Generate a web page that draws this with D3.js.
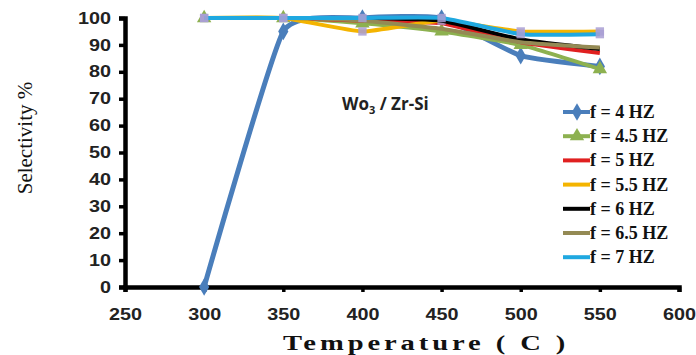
<!DOCTYPE html>
<html lang="en">
<head>
    <meta charset="UTF-8">
    <script src="https://cdn.jsdelivr.net/npm/d3@7"></script>
    <title>Selectivity vs Temperature</title>
    <style>
        body { margin: 0; background: white; }
        .tick text { font-family: "Liberation Sans", Arial, sans-serif; font-weight: bold; font-size: 16px; fill: #222; }
    </style>
</head>
<body>
    <div id="chart"></div>
    <script>
        const temps = [300, 350, 400, 450, 500, 550];
        const seriesNames = ["f = 4 HZ", "f = 4.5 HZ", "f = 5 HZ", "f = 5.5 HZ", "f = 6  HZ", "f = 6.5 HZ", "f = 7  HZ"];
        const sel4 = [0, 95, 100, 100, 86, 82];
        const sel45 = [100, 100, 98, 95, 90, 81];
        const sel5 = [100, 100, 99, 98, 91, 87];
        const sel55 = [100, 100, 95, 99, 95, 95];
        const sel6 = [100, 100, 100, 99, 92, 88.5];
        const sel65 = [100, 100, 99, 96, 91, 89];
        const sel7 = [100, 100, 100, 100, 94, 94];
        const xTicks = [250, 300, 350, 400, 450, 500, 550, 600];
        const yTicks = [0, 10, 20, 30, 40, 50, 60, 70, 80, 90, 100];

        const colors = ["#4a7ebb", "#8db150", "#e02020", "#f4b400", "#000000", "#948a54", "#1fa8e0"];
        const markers = ["diamond", "triangle", null, "square", null, null, "square"];
        const allValues = [sel4, sel45, sel5, sel55, sel6, sel65, sel7];

        const width = 696, height = 355;
        const svg = d3.select("#chart").append("svg")
            .attr("width", width)
            .attr("height", height);

        const x = d3.scaleLinear().domain([250, 600]).range([125, 679]);
        const y = d3.scaleLinear().domain([0, 100]).range([287, 18]);

        // axes
        const yAxis = svg.append("g")
            .attr("transform", "translate(125,0)")
            .call(d3.axisLeft(y).tickValues(yTicks).tickSize(6).tickPadding(8));
        const xAxis = svg.append("g")
            .attr("transform", "translate(0,287)")
            .call(d3.axisBottom(x).tickValues(xTicks).tickSize(5).tickPadding(14));
        [xAxis, yAxis].forEach(g => {
            g.select(".domain").attr("stroke", "#000").attr("stroke-width", 4.5);
            g.selectAll(".tick line").attr("stroke", "#000").attr("stroke-width", 3.5);
            g.selectAll(".tick text").attr("textLength", 33).attr("lengthAdjust", "spacingAndGlyphs");
        });
        yAxis.selectAll(".tick text").attr("textLength", d => d === 100 ? 33 : d === 0 ? 11 : 22);
        xAxis.selectAll(".tick text").attr("dy", "0.9em");

        const line = d3.line()
            .x((d, i) => x(temps[i]))
            .y(d => y(d))
            .curve(d3.curveCardinal.tension(0.55));

        const sym = {
            diamond: d3.symbol().type(d3.symbolDiamond).size(90),
            triangle: d3.symbol().type(d3.symbolTriangle).size(90),
            square: d3.symbol().type(d3.symbolSquare).size(70)
        };

        allValues.forEach((vals, k) => {
            svg.append("path")
                .attr("d", line(vals))
                .attr("fill", "none")
                .attr("stroke", colors[k])
                .attr("stroke-width", k === 0 ? 5 : 4)
                .attr("stroke-linejoin", "round");
            if (markers[k]) {
                svg.selectAll(null)
                    .data(vals)
                    .enter().append("path")
                    .attr("d", sym[markers[k]]())
                    .attr("transform", (d, i) => `translate(${x(temps[i])},${y(d)})`)
                    .attr("fill", markers[k] === "square" ? "#a99fd4" : colors[k])
                    .attr("opacity", markers[k] === "square" ? 0.85 : 1);
            }
        });

        // annotation
        const note = svg.append("text")
            .attr("x", 342)
            .attr("y", 110)
            .style("font-family", "'Open Sans', sans-serif")
            .style("font-weight", 700)
            .style("font-size", "17px")
            .attr("fill", "#222");
        note.append("tspan").text("Wo");
        note.append("tspan").attr("dy", 4).style("font-size", "11px").text("3");
        note.append("tspan").attr("dy", -4).text(" / Zr-Si");

        // legend
        const legend = svg.append("g").attr("transform", "translate(563,112)");
        seriesNames.forEach((name, k) => {
            const row = legend.append("g").attr("transform", `translate(0,${k * 24.2})`);
            row.append("line")
                .attr("x1", 0).attr("x2", 27)
                .attr("stroke", colors[k])
                .attr("stroke-width", 4);
            if (k < 2) {
                row.append("path")
                    .attr("d", sym[markers[k]]())
                    .attr("transform", "translate(14,0)")
                    .attr("fill", colors[k]);
            }
            row.append("text")
                .attr("x", 27)
                .attr("y", 6)
                .style("font-family", "'Liberation Serif', 'Times New Roman', serif")
                .style("font-weight", "bold")
                .style("font-size", "18px")
                .attr("fill", "#111")
                .text(name);
        });

        // axis titles
        svg.append("text")
            .attr("transform", "translate(32,138) rotate(-90)")
            .attr("text-anchor", "middle")
            .style("font-family", "'Liberation Serif', 'Times New Roman', serif")
            .style("font-size", "21px")
            .attr("fill", "#111")
            .text("Selectivity %");

        svg.append("text")
            .attr("transform", "translate(283,350) scale(1.3,1)")
            .style("font-family", "'Liberation Serif', 'Times New Roman', serif")
            .style("font-weight", "bold")
            .style("font-size", "22px")
            .style("letter-spacing", "3px")
            .attr("fill", "#111")
            .text("Temperature ( C )");
    </script>
</body>
</html>
